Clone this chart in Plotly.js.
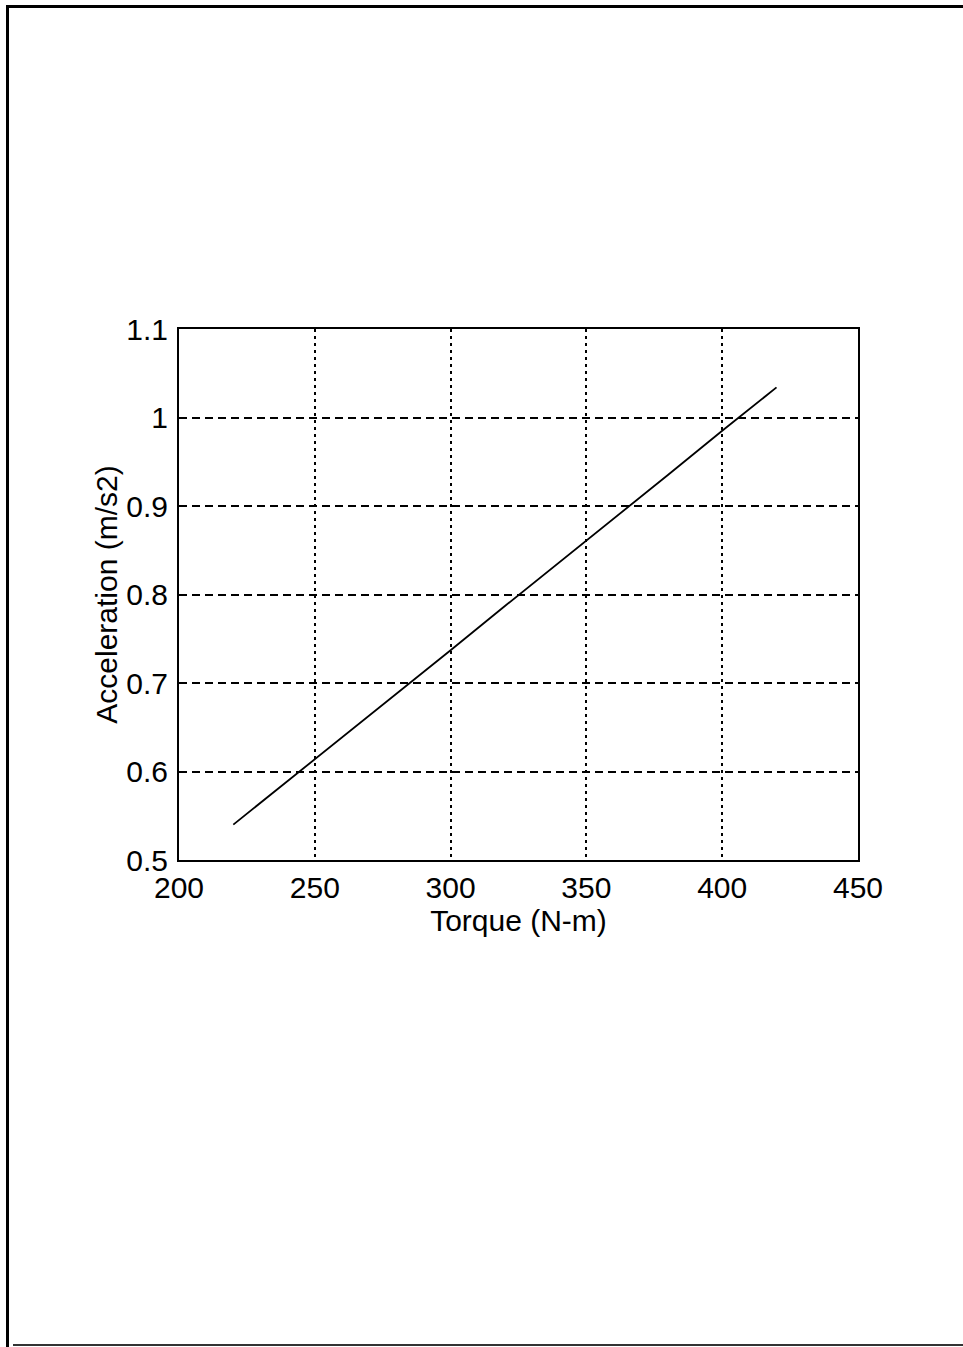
<!DOCTYPE html>
<html>
<head>
<meta charset="utf-8">
<script src="https://cdn.plot.ly/plotly-3.0.1.min.js"></script>
<style>
  html, body { margin: 0; padding: 0; background: #fff; }
  #wrap { position: relative; width: 963px; height: 1347px; overflow: hidden; }
  #chart { position: absolute; left: 0; top: 0; width: 963px; height: 1347px; }
  .bt { position: absolute; left: 6px; top: 5px; width: 957px; height: 3px; background: #000; }
  .bl { position: absolute; left: 6px; top: 5px; width: 3px; height: 1342px; background: #000; }
  .bb { position: absolute; left: 13px; top: 1344px; width: 950px; height: 2px; background: #333; }
</style>
</head>
<body>
<div id="wrap">
  <div id="chart"></div>
  <div class="bt"></div>
  <div class="bl"></div>
  <div class="bb"></div>
</div>
<script>
const torque = [220, 240, 260, 280, 300, 320, 340, 360, 380, 400, 420];
const acceleration = [0.540, 0.589, 0.638, 0.688, 0.737, 0.787, 0.836, 0.886, 0.935, 0.985, 1.034];
const xTicks = [200, 250, 300, 350, 400, 450];
const xTickText = ["200", "250", "300", "350", "400", "450"];
const yTicks = [0.5, 0.6, 0.7, 0.8, 0.9, 1.0, 1.1];
const yTickText = ["0.5", "0.6", "0.7", "0.8", "0.9", "1", "1.1"];

const trace = {
  x: torque,
  y: acceleration,
  type: 'scatter',
  mode: 'lines',
  line: { color: '#000', width: 1.8 },
  hoverinfo: 'skip'
};

const fontFam = 'Liberation Sans, Arial, Helvetica, sans-serif';

const layout = {
  width: 963,
  height: 1347,
  margin: { l: 179, r: 105, t: 329, b: 487, pad: 0 },
  paper_bgcolor: '#fff',
  plot_bgcolor: '#fff',
  showlegend: false,
  font: { family: fontFam, color: '#000', size: 30 },
  xaxis: {
    range: [200, 450],
    tickmode: 'array',
    tickvals: xTicks,
    ticktext: xTickText,
    showgrid: true,
    gridcolor: '#000',
    gridwidth: 2,
    griddash: '3px,4px',
    zeroline: false,
    showline: true,
    linecolor: '#000',
    linewidth: 2,
    mirror: true,
    ticks: '',
    ticklabelstandoff: 0,
    tickfont: { family: fontFam, size: 30, color: '#000' },
    title: { text: 'Torque (N-m)', font: { family: fontFam, size: 30, color: '#000' }, standoff: 0 }
  },
  yaxis: {
    range: [0.5, 1.1],
    tickmode: 'array',
    tickvals: yTicks,
    ticktext: yTickText,
    showgrid: true,
    gridcolor: '#000',
    gridwidth: 2,
    griddash: '8px,5px',
    zeroline: false,
    showline: true,
    linecolor: '#000',
    linewidth: 2,
    mirror: true,
    ticks: '',
    ticklabelstandoff: 3,
    tickfont: { family: fontFam, size: 30, color: '#000' },
    title: { text: 'Acceleration (m/s2)', font: { family: fontFam, size: 30, color: '#000' }, standoff: 0 }
  }
};

Plotly.newPlot('chart', [trace], layout, { staticPlot: true, displayModeBar: false });
</script>
</body>
</html>
